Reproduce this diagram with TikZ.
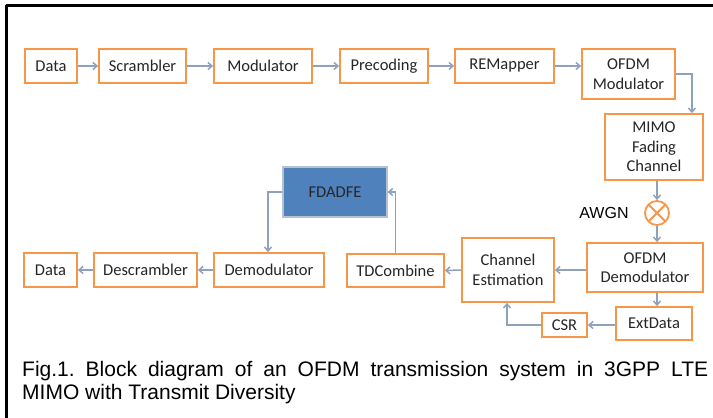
\documentclass[tikz,border=0pt]{standalone}
\usepackage{fontspec}
\setmainfont{Carlito}
\newfontfamily\arialf{Liberation Sans}
\usetikzlibrary{arrows.meta}
\definecolor{boxorange}{HTML}{F79646}
\definecolor{arrowgrey}{HTML}{8EA2BD}
\definecolor{fdblue}{HTML}{4F81BD}
\definecolor{fdborder}{HTML}{B4C2D4}
\tikzset{
  blk/.style={draw=boxorange, line width=1.8pt, fill=white, inner sep=0pt, align=center,
    font=\fontsize{16.5}{19.5}\selectfont, text=black!85},
  conn/.style={draw=arrowgrey, line width=1.5pt, -{Straight Barb[length=4pt,width=7pt]}},
}
\frenchspacing
\begin{document}
\begin{tikzpicture}[x=1pt,y=-1pt]
\useasboundingbox (0,0) rectangle (713,418);
% frame
\draw[line width=3pt] (5.5,5) -- (713,5);
\draw[line width=3pt] (6.8,5) -- (6.8,418);
% top row
\node[blk, minimum width=52pt, minimum height=34pt] (data1) at (51,66) {Data};
\node[blk, minimum width=87pt, minimum height=34pt] (scr) at (142.5,66) {Scrambler};
\node[blk, minimum width=98pt, minimum height=34pt] (mod) at (263,66) {Modulator};
\node[blk, minimum width=88pt, minimum height=34pt] (pre) at (384,66) {Precoding};
\node[blk, minimum width=99pt, minimum height=34pt] (rem) at (504.5,66) {REMapper};
\node[blk, minimum width=93pt, minimum height=50pt] (ofdmmod) at (628.5,74) {OFDM\\Modulator};
\node[blk, minimum width=98pt, minimum height=66pt] (mimo) at (654,147) {MIMO\\Fading\\Channel};
% AWGN
\node[circle, draw=boxorange, line width=1.8pt, minimum size=24pt, inner sep=0pt,
  path picture={\draw[boxorange, line width=1.8pt]
    (path picture bounding box.north west) -- (path picture bounding box.south east)
    (path picture bounding box.north east) -- (path picture bounding box.south west);}]
  (awgn) at (657,213) {};
\node[font=\arialf\fontsize{16}{19}\selectfont, inner sep=0pt] (awgnlbl) at (604,213) {AWGN};
% right column
\node[blk, minimum width=116pt, minimum height=49pt] (ofdmdem) at (645,267.5) {OFDM\\Demodulator};
\node[blk, minimum width=76pt, minimum height=33pt] (ext) at (654,323.5) {ExtData};
\node[blk, minimum width=45pt, minimum height=24pt] (csr) at (564.5,325) {CSR};
\node[blk, minimum width=92pt, minimum height=64pt] (chest) at (508,270) {Channel\\Estimation};
\node[blk, minimum width=97pt, minimum height=33pt] (tdc) at (395.5,270.5) {TDCombine};
\node[draw=fdborder, line width=1.2pt, fill=fdblue, inner sep=0pt, minimum width=104pt,
  minimum height=50pt, font=\fontsize{16.5}{19.5}\selectfont, text=black!85] (fd) at (335,192) {FDADFE};
\node[blk, minimum width=110pt, minimum height=34pt] (demod) at (269,270) {Demodulator};
\node[blk, minimum width=103pt, minimum height=34pt] (descr) at (145.5,270) {Descrambler};
\node[blk, minimum width=53pt, minimum height=34pt] (data2) at (50.5,270) {Data};
% connectors
\draw[conn] (data1) -- (scr);
\draw[conn] (scr) -- (mod);
\draw[conn] (mod) -- (pre);
\draw[conn] (pre) -- (rem);
\draw[conn] (rem.east) -- (rem.east -| ofdmmod.west);
\draw[conn] (ofdmmod.east) -| ([xshift=-12pt]mimo.north east);
\draw[conn] (awgn.north |- mimo.south) -- (awgn.north);
\draw[conn] (awgn.south) -- (awgn.south |- ofdmdem.north);
\draw[conn] (ofdmdem.west |- chest.east) -- (chest.east);
\draw[conn] (chest.west) -- (tdc.east);
\draw[conn] (awgn.south |- ofdmdem.south) -- (awgn.south |- ext.north);
\draw[conn] (ext.west |- csr.east) -- (csr.east);
\draw[conn] (csr.west) -| ([xshift=-1pt]chest.south);
\draw[conn] (tdc.north) |- (fd.east);
\draw[conn] (fd.west) -| ([xshift=-1pt]demod.north);
\draw[conn] (demod) -- (descr);
\draw[conn] (descr) -- (data2);
% caption
\node[anchor=north west, inner sep=0pt, text width=686pt, align=justify,
  font=\arialf\fontsize{21}{23}\selectfont] (cap) at (22,361)
  {Fig.1. Block diagram of an OFDM transmission system in 3GPP LTE\linebreak MIMO with Transmit Diversity};
\end{tikzpicture}
\end{document}
